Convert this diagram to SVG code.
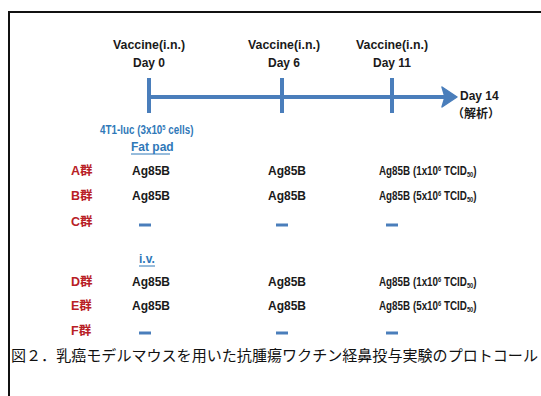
<svg xmlns="http://www.w3.org/2000/svg" width="541" height="396" viewBox="0 0 541 396">
<defs>
<style>
.t{font-family:"Liberation Sans","Noto Sans CJK JP",sans-serif;font-size:12px;font-weight:bold;fill:#1a1a1a}
.c{text-anchor:middle}
.b{fill:#2f78b8}
.r{font-family:"Liberation Sans","Noto Sans CJK JP",sans-serif;font-size:12.5px;font-weight:bold;fill:#b82025}
.cap{font-family:"Noto Sans CJK JP",sans-serif;font-size:15px;fill:#111}
.tl{stroke:#4a7ebb;stroke-width:4;fill:none}
.dash{stroke:#4a7ebb;stroke-width:3}
.u{stroke:#2f78b8;stroke-width:1}
.s{font-size:7px}
</style>
</defs>
<rect width="541" height="396" fill="#fff"/>
<path d="M9 396 V12 H541" fill="none" stroke="#111" stroke-width="2"/>
<g id="timeline">
<path class="tl" d="M148 97 H446"/>
<polygon points="457,97 442,87 445,97 442,107" fill="#4a7ebb" stroke="#4a7ebb" stroke-width="1.5" stroke-linejoin="round"/>
<path class="tl" d="M149 78 V113 M282 78 V113 M392 78 V113"/>
</g>
<g id="labels-top">
<text class="t c" x="149" y="49" textLength="72" lengthAdjust="spacingAndGlyphs">Vaccine(i.n.)</text>
<text class="t c" x="149" y="67">Day 0</text>
<text class="t c" x="284" y="49" textLength="72" lengthAdjust="spacingAndGlyphs">Vaccine(i.n.)</text>
<text class="t c" x="284" y="67">Day 6</text>
<text class="t c" x="392" y="49" textLength="72" lengthAdjust="spacingAndGlyphs">Vaccine(i.n.)</text>
<text class="t c" x="392" y="67">Day 11</text>
<text class="t" x="460" y="100">Day 14</text>
<text class="t" x="452" y="118">（解析）</text>
</g>
<g id="tumor">
<text class="t b" transform="translate(100,134) scale(0.82,1)">4T1-luc (3x10<tspan class="s" dy="-4">5</tspan><tspan dy="4"> cells)</tspan></text>
<text class="t b" x="131" y="151">Fat pad</text>
<line class="u" x1="131" y1="154" x2="170" y2="154"/>
</g>
<g id="groupA">
<text class="r" x="71" y="175">A群</text>
<text class="t" x="132" y="175">Ag85B</text>
<text class="t" x="268" y="175">Ag85B</text>
<text class="t" transform="translate(379,175) scale(0.82,1)">Ag85B (1x10<tspan class="s" dy="-4">6</tspan><tspan dy="4"> TCID</tspan><tspan class="s" dy="2">50</tspan><tspan dy="-2">)</tspan></text>
</g>
<g id="groupB">
<text class="r" x="71" y="200">B群</text>
<text class="t" x="132" y="200">Ag85B</text>
<text class="t" x="268" y="200">Ag85B</text>
<text class="t" transform="translate(379,200) scale(0.82,1)">Ag85B (5x10<tspan class="s" dy="-4">6</tspan><tspan dy="4"> TCID</tspan><tspan class="s" dy="2">50</tspan><tspan dy="-2">)</tspan></text>
</g>
<g id="groupC">
<text class="r" x="71" y="226">C群</text>
<line class="dash" x1="139" y1="225" x2="151" y2="225"/>
<line class="dash" x1="276" y1="225" x2="288" y2="225"/>
<line class="dash" x1="386" y1="225" x2="398" y2="225"/>
</g>
<g id="iv">
<text class="t b" x="139" y="263">i.v.</text>
<line class="u" x1="139" y1="266" x2="155" y2="266"/>
</g>
<g id="groupD">
<text class="r" x="71" y="286">D群</text>
<text class="t" x="132" y="286">Ag85B</text>
<text class="t" x="268" y="286">Ag85B</text>
<text class="t" transform="translate(379,286) scale(0.82,1)">Ag85B (1x10<tspan class="s" dy="-4">6</tspan><tspan dy="4"> TCID</tspan><tspan class="s" dy="2">50</tspan><tspan dy="-2">)</tspan></text>
</g>
<g id="groupE">
<text class="r" x="71" y="310">E群</text>
<text class="t" x="132" y="310">Ag85B</text>
<text class="t" x="268" y="310">Ag85B</text>
<text class="t" transform="translate(379,310) scale(0.82,1)">Ag85B (5x10<tspan class="s" dy="-4">6</tspan><tspan dy="4"> TCID</tspan><tspan class="s" dy="2">50</tspan><tspan dy="-2">)</tspan></text>
</g>
<g id="groupF">
<text class="r" x="71" y="335">F群</text>
<line class="dash" x1="139" y1="333" x2="151" y2="333"/>
<line class="dash" x1="276" y1="333" x2="288" y2="333"/>
<line class="dash" x1="386" y1="333" x2="398" y2="333"/>
</g>
<text class="cap" x="11" y="361" textLength="527" lengthAdjust="spacingAndGlyphs">図２．乳癌モデルマウスを用いた抗腫瘍ワクチン経鼻投与実験のプロトコール</text>
</svg>
